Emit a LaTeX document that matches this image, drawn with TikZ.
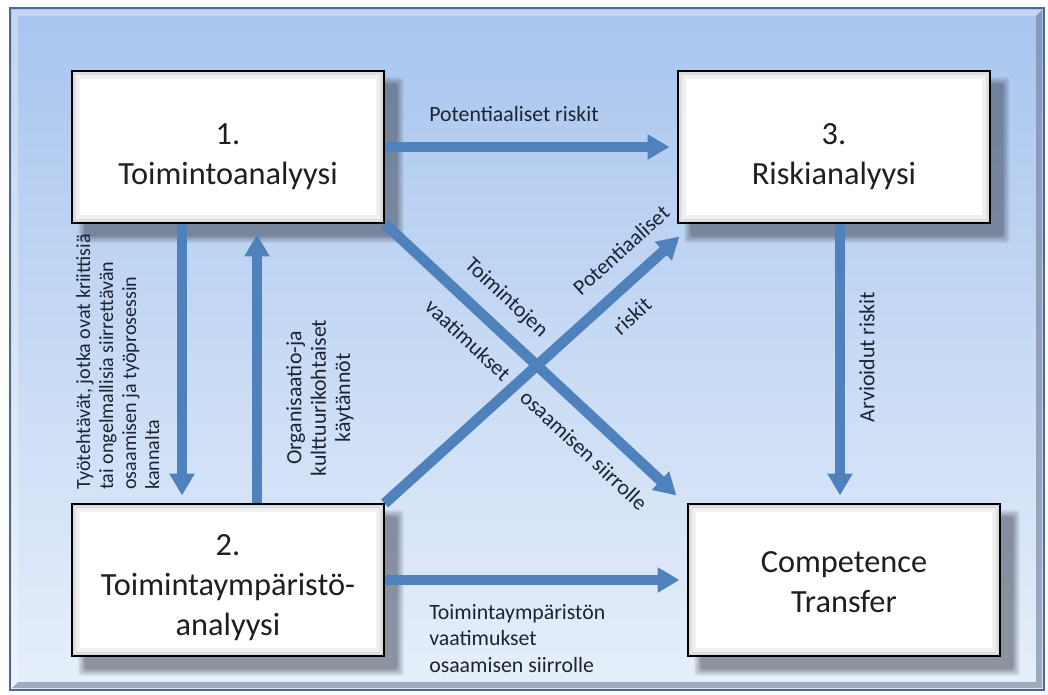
\documentclass[tikz,border=0pt]{standalone}
\usepackage{fontspec}
\setmainfont{Carlito}
\usetikzlibrary{arrows.meta,calc,backgrounds}
\definecolor{arrowblue}{HTML}{4F81BD}
\definecolor{bgtop}{RGB}{168,197,238}
\definecolor{bgbot}{RGB}{231,239,251}
\definecolor{framecol}{RGB}{78,104,145}
\definecolor{bevdark}{RGB}{110,124,148}
\definecolor{shadowcol}{RGB}{55,62,75}
\definecolor{lblcol}{RGB}{28,36,51}
\begin{document}
\begin{tikzpicture}[x=0.025cm,y=-0.025cm,
  box/.style={draw=black, line width=2.2pt, fill=white, minimum width=7.75cm, minimum height=3.75cm, inner sep=0pt},
  boxtext/.style={align=center, font=\fontsize{23}{28.5}\selectfont, text=black!88, inner sep=0pt},
  flow/.style={draw=arrowblue, line width=7.5pt, -{Triangle[width=17pt,length=15.5pt]}},
  lbl/.style={font=\fontsize{15.5}{17}\selectfont, text=lblcol, inner sep=0pt}]
\useasboundingbox (0,0) rectangle (1048,695);

% boxes
\node[box] (b1) at (228,147) {};
\node[box] (b3) at (834,147) {};
\node[box] (b2) at (228,580) {};
\node[box] (ct) at (844,580) {};
\foreach \n in {b1,b2,b3,ct}{
  \draw[black!13, line width=2.5pt] ($(\n.north west)+(3.5,3.5)$) rectangle ($(\n.south east)+(-3.5,-3.5)$);
  \draw[black!6, line width=2.5pt] ($(\n.north west)+(6.5,6.5)$) rectangle ($(\n.south east)+(-6.5,-6.5)$);
}

% box texts
\node[boxtext] (t1) at (228,157) {1.\\Toimintoanalyysi};
\node[boxtext] (t3) at (834,157) {3.\\Riskianalyysi};
\node[boxtext] (t2) at (228,588) {2.\\Toimintaympäristö-\\analyysi};
\node[boxtext] (tc) at (844,582) {Competence\\Transfer};

\begin{pgfonlayer}{background}
  % frame
  \shade[top color=bgtop, bottom color=bgbot] (10,8) rectangle (1044,690);
  \fill[white, opacity=0.3] (12,10) -- (1042,10) -- (1036,16) -- (18,16) -- cycle;
  \fill[white, opacity=0.3] (12,10) -- (18,16) -- (18,682) -- (12,688) -- cycle;
  \fill[bevdark, opacity=0.6] (1042,10) -- (1036,16) -- (1036,682) -- (1042,688) -- cycle;
  \fill[bevdark, opacity=0.6] (12,688) -- (18,682) -- (1036,682) -- (1042,688) -- cycle;
  \draw[framecol, line width=2pt] (10,8) rectangle (1044,690);
  % shadows
  \foreach \n in {b1,b2,b3,ct}{
    \foreach \e/\o in {6/0.12,4/0.14,2/0.16,0/0.22}{
      \fill[shadowcol, opacity=\o, rounded corners=2pt] ($(\n.north west)+(13-\e,13-\e)$) rectangle ($(\n.south east)+(13+\e,13+\e)$);
    }
  }
  % connectors
  \draw[flow] (b1.east) -- ($(b3.west)+(-8,0)$);
  \draw[flow] ($(b1.south)+(-46,0)$) -- ($(b2.north)+(-46,-8)$);
  \draw[flow] ($(b2.north)+(29,0)$) -- ($(b1.south)+(29,11)$);
  \draw[flow] ($(b3.south)+(6,0)$) -- ($(ct.north)+(-4,-8)$);
  \draw[flow] (b2.east) -- ($(ct.west)+(-8,0)$);
  \draw[flow] (b1.south east) -- ($(ct.north west)+(-11,-8)$);
  \draw[flow] (b2.north east) -- ($(b3.south west)+(2,13)$);
\end{pgfonlayer}

% labels
\node[lbl, anchor=base west] (l13) at (429,122) {Potentiaaliset riskit};
\node[lbl, rotate=90, anchor=north west, align=left, font=\fontsize{14.3}{16.3}\selectfont] (l12) at (76,490)
  {Työtehtävät, jotka ovat kriittisiä\\tai ongelmallisia siirrettävän\\osaamisen ja työprosessin\\kannalta};
\node[lbl, rotate=90, align=center, font=\fontsize{15.5}{17.4}\selectfont] (l21) at (320,398)
  {Organisaatio-ja\\kulttuurikohtaiset\\käytännöt};
\node[lbl, rotate=90] (l3c) at (867,357) {Arvioidut riskit};
\node[lbl, anchor=north west, align=left, font=\fontsize{15.5}{19}\selectfont] (l2c) at (429,604)
  {Toimintaympäristön\\vaatimukset\\osaamisen siirrolle};
\node[lbl, rotate=-43] (d1a) at (506,298) {Toimintojen};
\node[lbl, rotate=-43] (d1b) at (468,340) {vaatimukset};
\node[lbl, rotate=-43] (d1c) at (584,450) {osaamisen siirrolle};
\node[lbl, rotate=42] (d2a) at (621,250) {Potentiaaliset};
\node[lbl, rotate=42] (d2b) at (632,316) {riskit};
\end{tikzpicture}
\end{document}
